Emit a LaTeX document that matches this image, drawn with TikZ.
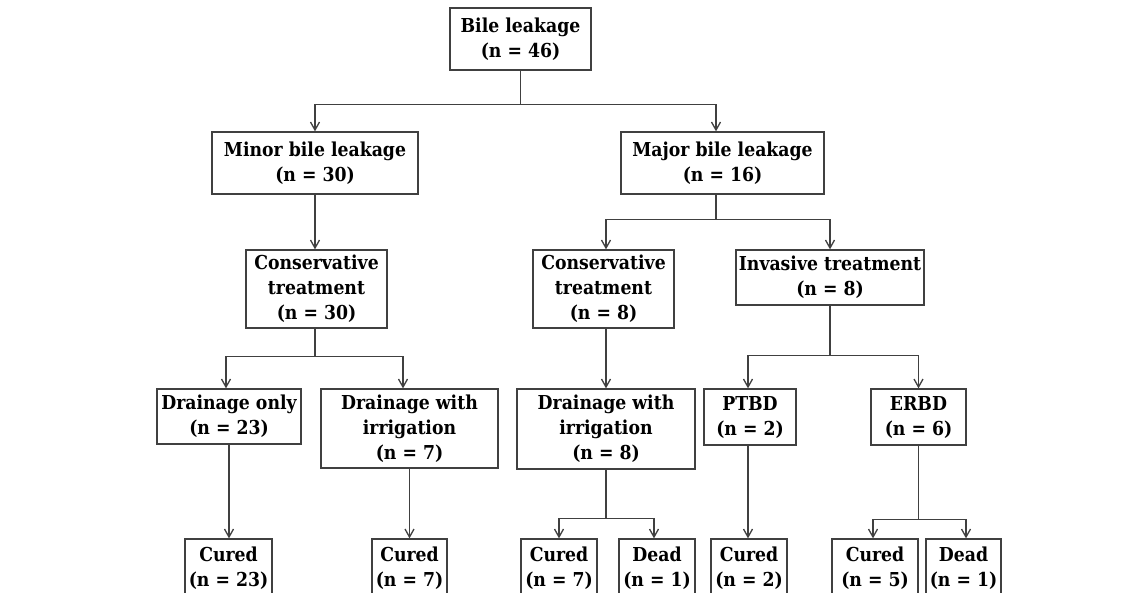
\documentclass[tikz,border=0pt]{standalone}
\usepackage{fontspec}
\setmainfont[FakeStretch=0.9]{DejaVu Serif}
\usetikzlibrary{arrows.meta}

\tikzset{
  box/.style 2 args={draw=black!75, line width=0.65pt, align=center, inner sep=0pt,
    minimum width=#1*0.5pt, minimum height=#2*0.5pt,
    font=\fontsize{9.6}{12.5}\selectfont\bfseries},
  arr/.style={draw=black!75, line width=0.65pt, -{Straight Barb[length=4pt,width=4.5pt]}}
}

\begin{document}
\begin{tikzpicture}[x=0.5pt,y=-0.5pt]
        \clip (0,0) rectangle (1140,593);
        \fill[white] (0,0) rectangle (1140,593);

        % top levels
        \node[box={141}{62}] (bile) at (520.5,39) {Bile leakage\\(n = 46)};
        \node[box={206}{62}] (minor) at (315,163) {Minor bile leakage\\(n = 30)};
        \node[box={203}{62}] (major) at (722.5,163) {Major bile leakage\\(n = 16)};

        % treatments
        \node[box={141}{78}] (consL) at (316.5,289) {Conservative\\treatment\\(n = 30)};
        \node[box={141}{78}] (consR) at (603.5,289) {Conservative\\treatment\\(n = 8)};
        \node[box={188}{55}] (inv) at (830,277.5) {Invasive treatment\\(n = 8)};

        % procedures
        \node[box={144}{55}] (drOnly) at (229,416.5) {Drainage only\\(n = 23)};
        \node[box={177}{79}] (drIrrL) at (409.5,428.5) {Drainage with\\irrigation\\(n = 7)};
        \node[box={178}{80}] (drIrrR) at (606,429) {Drainage with\\irrigation\\(n = 8)};
        \node[box={92}{56}] (ptbd) at (750,417) {PTBD\\(n = 2)};
        \node[box={95}{56}] (erbd) at (918.5,417) {ERBD\\(n = 6)};

        % outcomes
        \node[box={87}{58}] (cur23) at (228.5,568) {Cured\\(n = 23)};
        \node[box={75}{58}] (cur7L) at (409.5,568) {Cured\\(n = 7)};
        \node[box={76}{58}] (cur7R) at (559,568) {Cured\\(n = 7)};
        \node[box={76}{58}] (deadL) at (657,568) {Dead\\(n = 1)};
        \node[box={76}{58}] (cur2) at (749,568) {Cured\\(n = 2)};
        \node[box={86}{58}] (cur5) at (875,568) {Cured\\(n = 5)};
        \node[box={75}{58}] (deadR) at (963.5,568) {Dead\\(n = 1)};

        % connectors
        \draw[arr] (bile.south) -- ++(0,34) -| (minor.north);
        \draw[arr] (bile.south) -- ++(0,34) -| ([xshift=-3.25pt]major.north);
        \draw[arr] (minor.south) -- (consL.north -| minor.south);

        \draw[arr] ([xshift=-0.75pt]consL.south) -- ++(0,28) -| ([xshift=-1.5pt]drOnly.north);
        \draw[arr] ([xshift=-0.75pt]consL.south) -- ++(0,28) -| ([xshift=-3.25pt]drIrrL.north);

        \draw[arr] ([xshift=-3.25pt]major.south) -- ++(0,25) -| ([xshift=1.25pt]consR.north);
        \draw[arr] ([xshift=-3.25pt]major.south) -- ++(0,25) -| (inv.north);
        \draw[arr] ([xshift=1.25pt]consR.south) -- (drIrrR.north);

        \draw[arr] (inv.south) -- ++(0,50) -| ([xshift=-1pt]ptbd.north);
        \draw[arr] (inv.south) -- ++(0,50) -| (erbd.north);

        \draw[arr] (drOnly.south) -- (drOnly.south |- cur23.north);
        \draw[arr] (drIrrL.south) -- (cur7L.north);
        \draw[arr] (drIrrR.south) -- ++(0,49) -| (cur7R.north);
        \draw[arr] (drIrrR.south) -- ++(0,49) -| ([xshift=-1.5pt]deadL.north);
        \draw[arr] ([xshift=-1pt]ptbd.south) -- ([xshift=-0.5pt]cur2.north);
        \draw[arr] (erbd.south) -- ++(0,74) -| ([xshift=-1pt]cur5.north);
        \draw[arr] (erbd.south) -- ++(0,74) -| ([xshift=1.25pt]deadR.north);

    \end{tikzpicture}
\end{document}
